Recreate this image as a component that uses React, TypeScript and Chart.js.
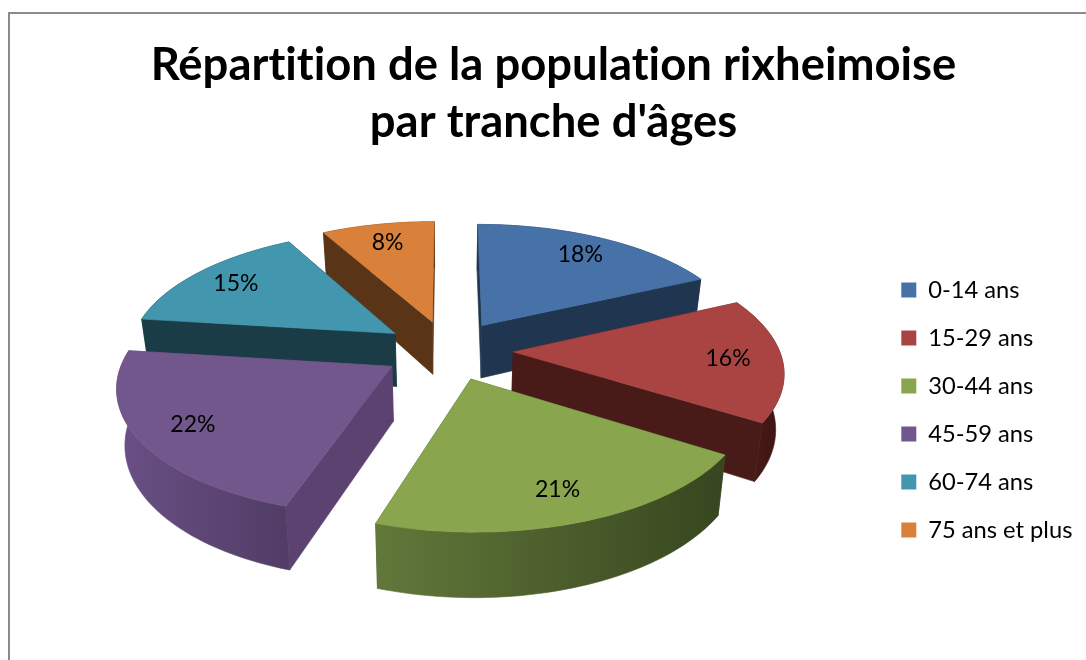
import React, { useEffect, useRef } from "react";
import { Chart, registerables } from "chart.js";

Chart.register(...registerables);

const categories = ["0-14 ans", "15-29 ans", "30-44 ans", "45-59 ans", "60-74 ans", "75 ans et plus"];
const shares = [18, 16, 21, 22, 15, 8];
const titleLines = ["Répartition de la population rixheimoise", "par tranche d'âges"];
const topColors = ["#4672a8", "#a94442", "#89a54e", "#72578d", "#4297ae", "#d9813b"];
const cutColors = ["#1f3550", "#481a18", "#4a5e2a", "#5b4270", "#1a3c46", "#593416"];
const rimLeft = ["#1f3550", "#481a18", "#62783a", "#6a5086", "#1a3c46", "#593416"];
const rimRight = ["#1f3550", "#3e1614", "#37461f", "#513d66", "#1a3c46", "#593416"];

const VIEW = { cx: 448, cy: 350, a: 266, b: 122, d: 7, depth: 54, shrink: 0.975, explode: 0.245, labelR: 0.8 };

function project(u: number, v: number, low: boolean) {
  const k = VIEW.d / (VIEW.d - v);
  const s = low ? VIEW.shrink : 1;
  return {
    x: VIEW.cx + VIEW.a * u * k * s,
    y: VIEW.cy + VIEW.b * v * k + (low ? VIEW.depth * k : 0),
  };
}

function poly(ctx: CanvasRenderingContext2D, pts: { x: number; y: number }[], fill: string | CanvasGradient) {
  ctx.beginPath();
  pts.forEach((p, i) => (i ? ctx.lineTo(p.x, p.y) : ctx.moveTo(p.x, p.y)));
  ctx.closePath();
  ctx.fillStyle = fill;
  ctx.strokeStyle = fill;
  ctx.lineWidth = 0.6;
  ctx.fill();
  ctx.stroke();
}

const pie3d = {
  id: "pie3d",
  beforeInit(chart: any) {
    chart.ctx.letterSpacing = "0.01px";
  },
  beforeDraw(chart: any) {
    chart.ctx.letterSpacing = "0.01px";
  },
  afterLayout(chart: any) {
    const legend = chart.legend;
    legend.left = 877;
    legend.right = 1086;
    legend.top += 80;
    legend.bottom += 80;
  },
  beforeDatasetsDraw(chart: any) {
    const ctx: CanvasRenderingContext2D = chart.ctx;
    const arcs = chart.getDatasetMeta(0).data.map((arc: any, i: number) => {
      const start = arc.startAngle + Math.PI / 2;
      const end = arc.endAngle + Math.PI / 2;
      const mid = (start + end) / 2;
      const ax = VIEW.explode * Math.sin(mid);
      const ay = -VIEW.explode * Math.cos(mid);
      return { i, start, end, mid, ax, ay };
    });
    const order = [...arcs].sort((p: any, q: any) => p.ay - q.ay);
    for (const s of order) {
      const rim: { u: number; v: number }[] = [];
      const steps = 48;
      for (let n = 0; n <= steps; n++) {
        const t = s.start + ((s.end - s.start) * n) / steps;
        rim.push({ u: s.ax + Math.sin(t), v: s.ay - Math.cos(t) });
      }
      const hi = rim.map((p) => project(p.u, p.v, false));
      const lo = rim.map((p) => project(p.u, p.v, true));
      const apexHi = project(s.ax, s.ay, false);
      const apexLo = project(s.ax, s.ay, true);
      poly(ctx, [apexHi, hi[0], lo[0], apexLo], cutColors[s.i]);
      poly(ctx, [apexHi, hi[steps], lo[steps], apexLo], cutColors[s.i]);
      const xs = hi.map((p) => p.x);
      const g = ctx.createLinearGradient(Math.min(...xs), 0, Math.max(...xs), 0);
      g.addColorStop(0, rimLeft[s.i]);
      g.addColorStop(1, rimRight[s.i]);
      poly(ctx, [...hi, ...[...lo].reverse()], g);
      poly(ctx, [apexHi, ...hi], topColors[s.i]);
    }
    ctx.fillStyle = "#000";
    ctx.font = "23px Lato";
    ctx.textAlign = "center";
    ctx.textBaseline = "middle";
    for (const s of arcs) {
      const p = project(s.ax + VIEW.labelR * Math.sin(s.mid), s.ay - VIEW.labelR * Math.cos(s.mid), false);
      ctx.fillText(`${shares[s.i]}%`, p.x, p.y);
    }
    return false;
  },
};

export default function App() {
  const ref = useRef<HTMLCanvasElement>(null);
  useEffect(() => {
    const chart = new Chart(ref.current!, {
      type: "pie",
      data: {
        labels: categories,
        datasets: [{ data: shares, backgroundColor: topColors, borderWidth: 0 }],
      },
      options: {
        responsive: false,
        animation: false,
        layout: { padding: { left: 21 } },
        plugins: {
          tooltip: { enabled: false },
          title: {
            display: true,
            text: titleLines,
            color: "#000",
            font: { family: "Lato", weight: "bold", size: 45.4, lineHeight: 1.26 },
            padding: { top: 37, bottom: 10 },
          },
          legend: {
            position: "right",
            labels: {
              boxWidth: 15,
              boxHeight: 15,
              padding: 24.3,
              color: "#000",
              font: { family: "Lato", size: 23.7 },
            },
          },
        },
      },
      plugins: [pie3d],
    } as any);
    return () => chart.destroy();
  }, []);
  return (
    <div style={{ position: "fixed", inset: 0, background: "#fff", overflow: "hidden" }}>
      <canvas ref={ref} width={1086} height={660} style={{ position: "absolute", left: 0, top: 0 }} />
      <div
        style={{
          position: "absolute",
          left: 8,
          top: 12,
          right: -4,
          bottom: -4,
          borderLeft: "2px solid #8b8b8b",
          borderTop: "2px solid #8b8b8b",
          pointerEvents: "none",
        }}
      />
    </div>
  );
}
